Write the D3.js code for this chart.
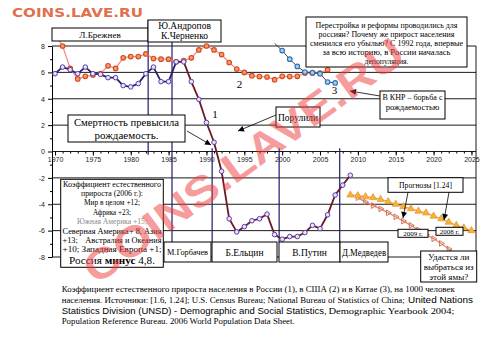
<!DOCTYPE html>
<html><head><meta charset="utf-8">
<script src="https://cdn.jsdelivr.net/npm/d3@7"></script>
<style>body{margin:0;background:#fff}svg{display:block}</style>
</head><body>
<svg id="c" width="491" height="339"></svg>
<script>
// ---------- DATA ----------
const russiaYears = d3.range(1970, 2010);
const russia = [5.9, 6.4, 6.2, 5.9, 6.4, 5.9, 5.85, 5.6, 5.6, 5.0,
                4.9, 5.15, 5.9, 6.4, 5.3, 5.3, 6.8, 6.8, 5.3, 3.95,
                2.2, 0.7, -1.5, -5.1, -6.1, -5.7, -5.25, -5.1, -4.75, -6.3,
                -6.65, -6.45, -6.45, -6.15, -5.6, -5.85, -4.8, -3.3, -2.55, -1.8];
const usaYears = d3.range(1970, 2007);
const usa = [8.9, 8.0, 6.3, 5.5, 5.7, 5.8, 5.9, 6.5, 6.3, 7.1,
             7.2, 7.2, 7.4, 7.05, 7.0, 7.0, 6.8, 6.9, 7.1, 7.7,
             8.0, 7.7, 7.35, 6.75, 6.25, 6.0, 5.75, 5.68, 5.65, 5.45,
             5.7, 5.68, 5.7, 5.95, 5.95, 5.95, 6.2];
const chinaYears = d3.range(1999, 2008);
const china = [8.2, 7.65, 7.0, 6.45, 6.03, 5.98, 5.9, 5.27, 5.2];
const fc2008Years = d3.range(2009, 2026);
const fc2008 = [-3.3, -3.35, -3.43, -3.5, -3.63, -3.8, -4.0, -4.18, -4.34, -4.52,
                -4.66, -4.9, -5.1, -5.36, -5.6, -5.8, -6.0];
const fc2009Years = d3.range(2010, 2026);
const fc2009 = [-3.5, -3.84, -4.1, -4.35, -4.65, -4.95, -5.28, -5.6, -5.95, -6.3,
                -6.62, -6.97, -7.4, -7.8, -8.2, -8.6];
const xTicks = d3.range(1970, 2026, 5);
const yTicks = [-8, -6, -4, -2, 0, 2, 4, 6, 8];
const leaderChangeYears = [1982.3, 1985.45, 1990.75, 1999.6, 2007.6];
const seriesLabels = ["1", "2", "3"];
const coefLines = ["Коэффициент естественного", "прироста (2006 г.):", "Мир в целом +12;", "Африка +23;", "Южная Америка +15;"];
const perestroikaLines = ["Перестройка и реформы проводились для", "россиян? Почему же прирост населения",
  "сменился его убылью? С 1992 года, впервые", "за всю историю, в России началась", "депопуляция."];

// ---------- SETUP ----------
const svg = d3.select("#c");
const x = d3.scaleLinear().domain([1969.6, 2025.6]).range([52, 476]);
const y = d3.scaleLinear().domain([-8, 8]).range([257, 46]);
const FS = "'Liberation Serif','Times New Roman',serif";
const SS = "'Liberation Sans',Arial,sans-serif";
const [X0, X1] = x.range();

svg.append("defs").append("marker").attr("id", "ah").attr("viewBox", "0 0 10 10")
  .attr("refX", 10).attr("refY", 5).attr("markerUnits", "userSpaceOnUse")
  .attr("markerWidth", 7).attr("markerHeight", 6).attr("orient", "auto")
  .append("path").attr("d", "M0,0L10,5L0,10z").attr("fill", "#000");

// gridlines
svg.append("g").selectAll("line").data(yTicks).join("line")
  .attr("x1", X0).attr("x2", X1).attr("y1", d => y(d)).attr("y2", d => y(d))
  .attr("stroke", "#000").attr("stroke-width", 0.9);
svg.append("line").attr("x1", X1).attr("x2", X1).attr("y1", y(8)).attr("y2", y(-8))
  .attr("stroke", "#000").attr("stroke-width", 0.9);

// axes
const yAx = svg.append("g").attr("transform", `translate(${X0},0)`)
  .call(d3.axisLeft(y).tickValues(yTicks).tickFormat(d => String(d)).tickSize(4).tickSizeOuter(0).tickPadding(3));
yAx.selectAll("text").attr("font-family", SS).attr("font-size", 7).attr("fill", "#222");
svg.append("g").attr("transform", `translate(${X0},0)`)
  .call(d3.axisLeft(y).tickValues(d3.range(-7, 8, 2)).tickSize(2).tickFormat(""))
  .call(g => g.select(".domain").remove());
const xAx = svg.append("g").attr("transform", `translate(0,${y(0)})`)
  .call(d3.axisBottom(x).tickValues(xTicks).tickFormat(d3.format("d")).tickSize(4).tickPadding(2));
xAx.select(".domain").remove();
xAx.selectAll("text").attr("font-family", SS).attr("font-size", 7).attr("fill", "#222");
svg.append("g").attr("transform", `translate(0,${y(0)})`)
  .call(d3.axisBottom(x).tickValues(d3.range(1970, 2026)).tickSize(2).tickFormat(""))
  .call(g => g.select(".domain").remove());

// leader change vertical lines
const vTop = [20, 42, y(0.25), y(0.25), y(0.25)];
const vBot = [y(-0.25), 242, 242, 242, 242];
svg.append("g").selectAll("line").data(leaderChangeYears).join("line")
  .attr("x1", d => x(d)).attr("x2", d => x(d))
  .attr("y1", (d, i) => vTop[i]).attr("y2", (d, i) => vBot[i])
  .attr("stroke", "#1c1c70").attr("stroke-width", 1.2);

// ---------- SERIES ----------
const zip = (ys, vs) => ys.map((yr, i) => ({ year: yr, v: vs[i] }));
const line = d3.line().x(d => x(d.year)).y(d => y(d.v));
const inRange = d => d.v <= 8 && d.v >= -8;

const f09 = zip(fc2009Years, fc2009);
svg.append("path").datum(f09).attr("d", line).attr("fill", "none").attr("stroke", "#e08a70").attr("stroke-width", 1.3);
svg.append("g").selectAll("path").data(f09).join("path")
  .attr("d", d3.symbol(d3.symbolTriangle, 14))
  .attr("transform", d => `translate(${x(d.year)},${y(d.v)}) rotate(90)`)
  .attr("fill", "none").attr("stroke", "#d0684a").attr("stroke-width", 0.9);

const f08 = zip(fc2008Years, fc2008);
svg.append("path").datum(f08).attr("d", line).attr("fill", "none").attr("stroke", "#f0a448").attr("stroke-width", 1.3);
svg.append("g").selectAll("path").data(f08).join("path")
  .attr("d", d3.symbol(d3.symbolTriangle, 22))
  .attr("transform", d => `translate(${x(d.year)},${y(d.v)})`)
  .attr("fill", "#f5b530").attr("stroke", "#e0882a").attr("stroke-width", 0.6);

const us = zip(usaYears, usa);
svg.append("path").datum(us).attr("d", line).attr("fill", "none").attr("stroke", "#f08a80").attr("stroke-width", 1.2);
svg.append("g").selectAll("circle").data(us.filter(inRange)).join("circle")
  .attr("cx", d => x(d.year)).attr("cy", d => y(d.v)).attr("r", 2.3)
  .attr("fill", "#f49a6a").attr("stroke", "#d8481e").attr("stroke-width", 1.1);

const cn = zip(chinaYears, china);
svg.append("path").datum(cn).attr("d", line).attr("fill", "none").attr("stroke", "#203050").attr("stroke-width", 0.9);
svg.append("g").selectAll("circle").data(cn.filter(inRange)).join("circle")
  .attr("cx", d => x(d.year)).attr("cy", d => y(d.v)).attr("r", 2.3)
  .attr("fill", "#a8cdf0").attr("stroke", "#2f6fb0").attr("stroke-width", 1.1);

const ru = zip(russiaYears, russia);
svg.append("path").datum(ru.filter(d => d.year <= 1987)).attr("d", line).attr("fill", "none")
  .attr("stroke", "#2a1f6a").attr("stroke-width", 1.8);
svg.append("path").datum(ru.filter(d => d.year >= 1987)).attr("d", line).attr("fill", "none")
  .attr("stroke", "#6a1b28").attr("stroke-width", 1.8);
svg.append("g").selectAll("circle").data(ru).join("circle")
  .attr("cx", d => x(d.year)).attr("cy", d => y(d.v)).attr("r", 2.3)
  .attr("fill", "#e8e2f6").attr("stroke", "#5a3ea8").attr("stroke-width", 1);

// series labels
const labelPos = [[215, 118], [239.5, 87.5], [334.5, 94]];
svg.append("g").selectAll("text").data(seriesLabels).join("text")
  .attr("x", (d, i) => labelPos[i][0]).attr("y", (d, i) => labelPos[i][1])
  .attr("text-anchor", "middle").attr("font-family", FS).attr("font-size", 11).text(d => d);

// ---------- ANNOTATIONS ----------
function box(x0, y0, x1, y1) {
  svg.append("rect").attr("x", x0).attr("y", y0).attr("width", x1 - x0).attr("height", y1 - y0)
    .attr("fill", "#fff").attr("stroke", "#000").attr("stroke-width", 1);
}
function txt(s, tx, ty, size, opt = {}) {
  const t = svg.append("text").attr("x", tx).attr("y", ty).attr("font-family", opt.font || FS)
    .attr("font-size", size).attr("text-anchor", opt.anchor || "middle").attr("fill", opt.fill || "#000").text(s);
  if (opt.len) t.attr("textLength", opt.len).attr("lengthAdjust", "spacingAndGlyphs");
  return t;
}
function arrow(x1, y1, x2, y2) {
  svg.append("line").attr("x1", x1).attr("y1", y1).attr("x2", x2).attr("y2", y2)
    .attr("stroke", "#000").attr("stroke-width", 0.8).attr("marker-end", "url(#ah)");
}

box(52, 28, 148, 41); txt("Л.Брежнев", 100, 37.5, 9);
box(148, 20, 221, 42); txt("Ю.Андропов", 184.5, 28.8, 9.5); txt("К.Черненко", 184.5, 38.5, 9.5);
box(164, 242, 211, 262); txt("М.Горбачев", 187.5, 255, 8.3, { len: 41 });
box(212, 242, 277, 262); txt("Б.Ельцин", 244.5, 255.5, 9.5);
box(279, 242, 340, 262); txt("В.Путин", 309.5, 255.5, 9.5);
box(340, 242, 388, 262); txt("Д.Медведев", 364, 255.5, 9.5, { len: 44 });

box(68, 115, 185, 142);
txt("Смертность превысила", 126.5, 126, 11, { len: 105 });
txt("рождаемость.", 126.5, 138.5, 11);
arrow(187, 131, 211, 145);

box(276, 107, 320, 127); txt("Порулили", 298, 120.5, 10, { len: 40 });
arrow(276, 115, 238, 131);

box(380, 91, 445, 119);
txt("В КНР – борьба с", 412.5, 100, 8.5, { len: 60 });
txt("рождаемостью", 412.5, 110, 8.5);
arrow(380, 96, 350, 91);

box(306, 17, 467, 67);
const pLens = [142, 136, 153, 128, 44];
perestroikaLines.forEach((s, i) => txt(s, 386.5, 28.3 + i * 9, 8.2, { len: pLens[i] }));

box(60.7, 179.3, 163.3, 267.3);
const cY = [187, 196, 205, 214.5, 224];
const cLens = [98, 62, 56, 38, 70];
coefLines.forEach((s, i) => txt(s, 112, cY[i], 8.3, { len: cLens[i], fill: i === 4 ? "#8a8a8a" : "#000" }));
txt("Северная Америка", 62.5, 233.5, 8.3, { anchor: "start" });
txt("+ 8, Азия", 161.5, 233.5, 8.3, { anchor: "end" });
txt("+13;", 62.5, 243, 8.3, { anchor: "start" });
txt("Австралия и Океания", 161.5, 243, 8.3, { anchor: "end" });
txt("+10; Западная Европа +1;", 62.5, 252, 8.3, { anchor: "start", len: 99 });
const rus = txt("", 112, 263.5, 11.2);
rus.append("tspan").text("Россия ");
rus.append("tspan").attr("font-weight", "bold").text("минус");
rus.append("tspan").text(" 4,8.");

box(388, 177.7, 463, 192.3); txt("Прогнозы [1.24]", 425.5, 188, 8, { len: 53 });
arrow(408, 192.3, 403, 218);
arrow(449, 192.3, 444, 220);
box(398, 229.3, 428, 237.3); txt("2009 г.", 413, 236, 7);
box(436, 227.3, 463, 235.3); txt("2008 г.", 449.5, 234, 7);
box(420.7, 251, 476.7, 282);
txt("Удастся ли", 448.7, 260.3, 9);
txt("выбраться из", 448.7, 270.1, 9);
txt("этой ямы?", 448.7, 279.6, 9);

// caption
txt("Коэффициент естественного прироста населения в России (1), в США (2) и в Китае (3), на 1000 человек", 61.7, 292, 8.8, { anchor: "start", len: 393 });
txt("населения. Источники: [1.6, 1.24]; U.S. Census Bureau; National Bureau of Statistics of China;", 61.7, 303, 8.8, { anchor: "start", len: 343 });
txt("United Nations", 408, 303, 9, { anchor: "start", font: SS, len: 65 });
txt("Statistics Division (UNSD) - Demographic and Social Statistics,", 61.7, 313.7, 9, { anchor: "start", font: SS, len: 265 });
txt("Demographic Yearbook 2004;", 328.5, 313.7, 8.8, { anchor: "start", len: 126 });
txt("Population Reference Bureau. 2006 World Population Data Sheet.", 61.7, 323.7, 8.8, { anchor: "start", len: 233 });

// watermarks
svg.append("text").attr("x", 12).attr("y", 16.5).attr("font-family", "'DejaVu Sans',Verdana,sans-serif")
  .attr("font-weight", "bold").attr("font-size", 13).attr("fill", "#e0704e")
  .attr("textLength", 131).attr("lengthAdjust", "spacingAndGlyphs").text("COINS.LAVE.RU");
svg.append("text").attr("transform", "translate(243,160) rotate(-36)").attr("text-anchor", "middle")
  .attr("dy", "0.36em").attr("font-family", SS).attr("font-weight", "bold").attr("font-size", 42)
  .attr("textLength", 385).attr("lengthAdjust", "spacingAndGlyphs")
  .attr("fill", "#f03c3c").attr("opacity", 0.5).text("COINS.LAVE.RU");
</script>
</body></html>
